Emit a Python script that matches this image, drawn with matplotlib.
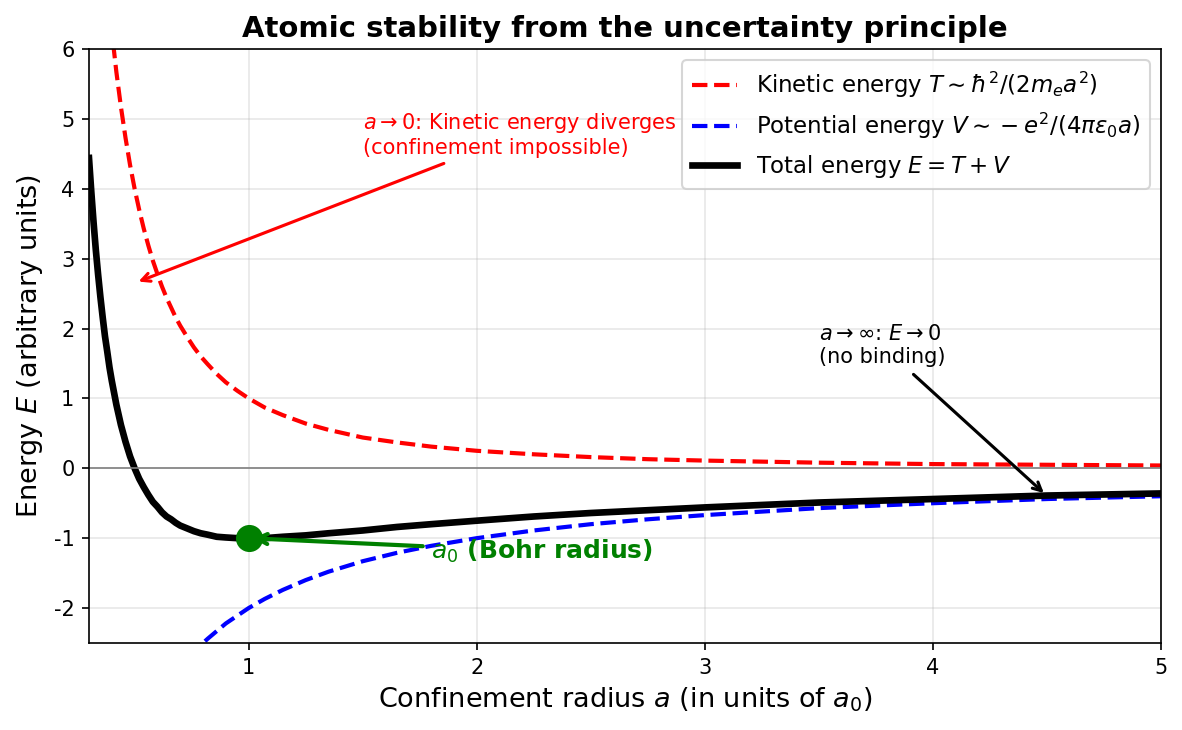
import matplotlib
matplotlib.use("Agg")
import matplotlib.pyplot as plt
import numpy as np

plt.rcParams['axes.unicode_minus'] = False

# confinement radius a (units of a0)
a = np.array([0.30, 0.31, 0.32, 0.33, 0.34, 0.35, 0.36, 0.37, 0.38, 0.39, 0.40,
              0.42, 0.44, 0.46, 0.48, 0.50, 0.52, 0.54, 0.56, 0.58, 0.60,
              0.62, 0.64, 0.66, 0.68, 0.70, 0.73, 0.76, 0.79, 0.82, 0.86,
              0.90, 0.95, 1.00, 1.07, 1.15, 1.25, 1.35, 1.50, 1.65, 1.80,
              2.00, 2.25, 2.50, 2.75, 3.00, 3.50, 4.00, 4.50, 5.00])
# kinetic energy T
T = np.array([11.11, 10.41, 9.77, 9.18, 8.65, 8.16, 7.72, 7.30, 6.93, 6.57, 6.25,
              5.67, 5.17, 4.73, 4.34, 4.00, 3.70, 3.43, 3.19, 2.97, 2.78,
              2.60, 2.44, 2.30, 2.16, 2.04, 1.88, 1.73, 1.60, 1.49, 1.35,
              1.23, 1.11, 1.00, 0.87, 0.76, 0.64, 0.55, 0.44, 0.37, 0.31,
              0.25, 0.20, 0.16, 0.13, 0.11, 0.08, 0.06, 0.05, 0.04])
# potential energy V
V = np.array([-6.67, -6.45, -6.25, -6.06, -5.88, -5.71, -5.56, -5.41, -5.26, -5.13, -5.00,
              -4.76, -4.55, -4.35, -4.17, -4.00, -3.85, -3.70, -3.57, -3.45, -3.33,
              -3.23, -3.13, -3.03, -2.94, -2.86, -2.74, -2.63, -2.53, -2.44, -2.33,
              -2.22, -2.11, -2.00, -1.87, -1.74, -1.60, -1.48, -1.33, -1.21, -1.11,
              -1.00, -0.89, -0.80, -0.73, -0.67, -0.57, -0.50, -0.44, -0.40])
E = T + V

fig = plt.figure(figsize=(7.88, 4.867), dpi=150)
ax = fig.add_axes([89/1182, 1 - 643/730, (1161 - 89)/1182, (643 - 49)/730])

ax.plot(a, T, 'r--', lw=2, label=r'Kinetic energy $T \sim \hbar^2/(2m_e a^2)$')
ax.plot(a, V, 'b--', lw=2, label=r'Potential energy $V \sim -e^2/(4\pi\varepsilon_0 a)$')
ax.plot(a, E, 'k-', lw=3.2, label=r'Total energy $E = T + V$')
ax.axhline(0, color='gray', lw=0.8)

# Bohr radius
ax.plot(1, -1, 'o', color='green', markersize=12, zorder=5)
ax.annotate(r'$a_0$ (Bohr radius)', xy=(1, -1), xytext=(1.8, -1.3),
            fontsize=12, color='green', fontweight='bold',
            arrowprops=dict(arrowstyle='->', color='green', lw=2))

ax.annotate('$a \\to 0$: Kinetic energy diverges\n(confinement impossible)',
            xy=(0.5, 2.65), xytext=(1.5, 4.5), fontsize=10, color='red',
            arrowprops=dict(arrowstyle='->', color='red', lw=1.5))

ax.annotate('$a \\to \\infty$: $E \\to 0$\n(no binding)',
            xy=(4.5, 1/4.5**2 - 2/4.5), xytext=(3.5, 1.5), fontsize=10,
            arrowprops=dict(arrowstyle='->', color='black', lw=1.5))

ax.set_xlim(0.3, 5)
ax.set_ylim(-2.5, 6)
ax.set_xlabel('Confinement radius $a$ (in units of $a_0$)', fontsize=13)
ax.set_ylabel('Energy $E$ (arbitrary units)', fontsize=13)
ax.set_title('Atomic stability from the uncertainty principle', fontsize=14, fontweight='bold')
ax.legend(loc='upper right', fontsize=11)
ax.grid(alpha=0.3)

plt.savefig('out.png', dpi=150)
